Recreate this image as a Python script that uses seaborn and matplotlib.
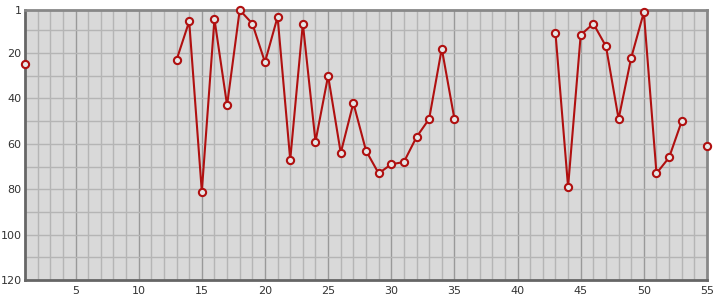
import numpy as np
import pandas as pd
import matplotlib
matplotlib.use("Agg")
import matplotlib.pyplot as plt
import seaborn as sns

# Data: ranking per position (missing positions omitted)
positions = [1, 13, 14, 15, 16, 17, 18, 19, 20, 21, 22, 23, 24, 25, 26, 27, 28,
             29, 30, 31, 32, 33, 34, 35, 43, 44, 45, 46, 47, 48, 49, 50, 51, 52, 53, 55]
ranks = [25, 23, 6, 81, 5, 43, 1, 7, 24, 4, 67, 7, 59, 30, 64, 42, 63,
         73, 69, 68, 57, 49, 18, 49, 11, 79, 12, 7, 17, 49, 22, 2, 73, 66, 50, 61]
y_ticks = [1, 20, 40, 60, 80, 100, 120]
x_ticks = [5, 10, 15, 20, 25, 30, 35, 40, 45, 50, 55]

df = pd.DataFrame({"x": positions, "y": ranks})
df["seg"] = (df["x"].diff().fillna(1) != 1).cumsum()

sns.set_theme(style="white")
plt.rcParams['font.family'] = ['DejaVu Sans']

fig = plt.figure(figsize=(7.15, 3.0), dpi=100)
ax = fig.add_axes([25 / 715, 20 / 300, 682 / 715, 270 / 300])
ax.set_facecolor("#d9d9d9")

# grid
for v in range(2, 55):
    ax.axvline(v, color="#999999" if v % 5 == 0 else "#b5b5b5", lw=1, zorder=1)
for h in range(10, 120, 10):
    ax.axhline(h, color="#b5b5b5", lw=1, zorder=1)

sns.lineplot(data=df, x="x", y="y", units="seg", estimator=None, ax=ax,
             color="#b01010", lw=1.5, marker="o", markersize=5.2,
             markerfacecolor="#e6e6e6", markeredgecolor="#b01010",
             markeredgewidth=1.5, zorder=3, clip_on=False, legend=False)

ax.set_xlim(1, 55)
ax.set_ylim(120, 1)
ax.set_yticks(y_ticks)
ax.set_xticks(x_ticks)
ax.set_xlabel("")
ax.set_ylabel("")
ax.tick_params(axis="both", length=0, labelsize=8, colors="#333333", pad=4)
ax.tick_params(axis="y", pad=2.5)

for side in ["left", "bottom"]:
    ax.spines[side].set_color("#666666")
    ax.spines[side].set_linewidth(2)
for side in ["top", "right"]:
    ax.spines[side].set_color("#888888")
    ax.spines[side].set_linewidth(2)
for s in ax.spines.values():
    s.set_visible(True)
    s.set_zorder(2)

fig.savefig("out.png", dpi=100)
